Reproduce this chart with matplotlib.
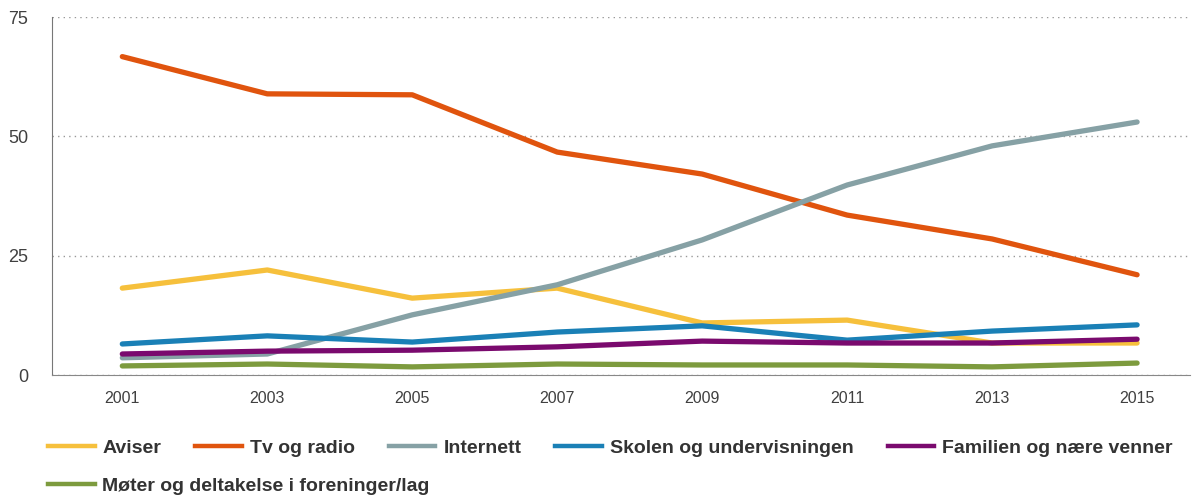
import matplotlib.pyplot as plt
from matplotlib.lines import Line2D

years = [2001, 2003, 2005, 2007, 2009, 2011, 2013, 2015]

aviser = [18.2, 22.0, 16.1, 18.2, 10.9, 11.5, 6.7, 6.7]
tv_radio = [66.7, 58.9, 58.7, 46.7, 42.1, 33.5, 28.5, 21.0]
internett = [3.6, 4.4, 12.6, 18.9, 28.3, 39.8, 48.0, 53.0]
skolen = [6.5, 8.2, 6.9, 9.0, 10.3, 7.3, 9.2, 10.5]
familien = [4.4, 5.0, 5.2, 5.9, 7.1, 6.7, 6.7, 7.5]
moter = [1.9, 2.3, 1.7, 2.3, 2.1, 2.1, 1.7, 2.5]

labels = ["Aviser", "Tv og radio", "Internett", "Skolen og undervisningen",
          "Familien og nære venner", "Møter og deltakelse i foreninger/lag"]
colors = ["#F6C03C", "#E0540E", "#86A1A5", "#1A80B6", "#7A0A6E", "#7D9B3E"]
series = [aviser, tv_radio, internett, skolen, familien, moter]

plt.rcParams['font.family'] = ['Liberation Sans', 'DejaVu Sans']

fig = plt.figure(figsize=(11.96, 4.96), dpi=100)
ax = fig.add_axes([52 / 1196, 1 - 375 / 496, (1190 - 52) / 1196, (375 - 17) / 496])

for vals, col, lab in zip(series, colors, labels):
    ax.plot(years, vals, color=col, lw=3.8, solid_capstyle='round', label=lab)

ax.set_xlim(2000.03, 2015.73)
ax.set_ylim(0, 75)
ax.set_yticks([0, 25, 50, 75])
ax.set_xticks(years)
ax.yaxis.grid(True, linestyle=(0, (1, 3)), color='#999999', lw=1)
ax.set_axisbelow(True)
for s in ['top', 'right']:
    ax.spines[s].set_visible(False)
ax.spines['left'].set_color('#777777')
ax.spines['bottom'].set_color('#888888')
ax.spines['bottom'].set_linestyle((0, (2, 1)))
ax.tick_params(length=0, colors='#404040')
ax.tick_params(axis='x', pad=11.5, labelsize=11.5)
ax.tick_params(axis='y', pad=17, labelsize=13)

handles = [Line2D([], [], color=c, lw=3.2) for c in colors]
legend_kw = dict(frameon=False, handlelength=2.4, handletextpad=0.4, borderpad=0,
                 borderaxespad=0, prop={'weight': 'bold', 'size': 14})
leg1 = fig.legend(handles[:5], labels[:5], loc='center left', bbox_to_anchor=(48 / 1196, 48 / 496),
                  ncol=5, columnspacing=1.75, **legend_kw)
leg2 = fig.legend(handles[5:], labels[5:], loc='center left', bbox_to_anchor=(48 / 1196, 10 / 496),
                  **legend_kw)
for leg in (leg1, leg2):
    for t in leg.get_texts():
        t.set_color('#333333')

fig.savefig('out.png', dpi=100)
